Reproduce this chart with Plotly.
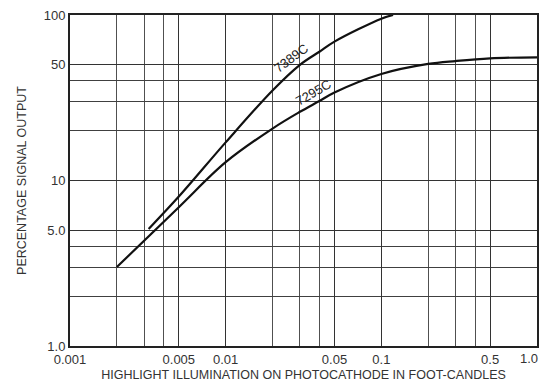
import plotly.graph_objects as go

# Data
x_7389c = [0.0032, 0.005, 0.01, 0.02, 0.03, 0.04, 0.05, 0.1, 0.119]
y_7389c = [5.1, 8.0, 17.0, 35.0, 50.0, 60.0, 69.0, 95.0, 100.0]

x_7295c = [0.002, 0.005, 0.01, 0.02, 0.03, 0.04, 0.05, 0.1, 0.2, 0.3, 0.5, 1.0]
y_7295c = [3.0, 6.9, 12.9, 20.6, 26.0, 30.2, 34.0, 44.0, 50.6, 52.7, 54.7, 55.5]

x_tickvals = [0.001, 0.005, 0.01, 0.05, 0.1, 0.5, 1.0]
x_ticktext = ["0.001", "0.005", "0.01", "0.05", "0.1", "0.5", "1.0"]
x_minor = [0.002, 0.003, 0.004, 0.02, 0.03, 0.04, 0.2, 0.3, 0.4]

y_tickvals = [1, 5, 10, 50, 100]
y_ticktext = ["1.0", "5.0", "10", "50", "100"]
y_minor = [2, 3, 4, 20, 30, 40]

font_family = "Liberation Sans, Arial, sans-serif"
grid_col = "#333333"
tick_font = dict(family=font_family, size=13, color="#333")

fig = go.Figure()
fig.add_trace(go.Scatter(x=x_7389c, y=y_7389c, mode="lines", name="7389C",
                         line=dict(color="#111", width=2.2, shape="spline", smoothing=1.0)))
fig.add_trace(go.Scatter(x=x_7295c, y=y_7295c, mode="lines", name="7295C",
                         line=dict(color="#111", width=2.2, shape="spline", smoothing=1.0)))

fig.add_annotation(x=-1.5825, y=1.738, xref="x", yref="y", text="7389C", showarrow=False,
                   textangle=-37, font=dict(family=font_family, size=13, color="#222"))
fig.add_annotation(x=-1.437, y=1.534, xref="x", yref="y", text="7295C", showarrow=False,
                   textangle=-30, font=dict(family=font_family, size=13, color="#222"))

# The last x tick label sits right-aligned at the plot's right edge (as in the reference)
tick_shown = [t if v < 1.0 else "" for v, t in zip(x_tickvals, x_ticktext)]
fig.add_annotation(x=0, y=0, xref="x", yref="paper", text=x_ticktext[-1], showarrow=False,
                   xanchor="right", yanchor="top", xshift=3, yshift=-3, font=tick_font)

fig.update_xaxes(type="log", range=[-3, 0], tickvals=x_tickvals, ticktext=tick_shown,
                 automargin=False,
                 showgrid=True, gridcolor=grid_col, gridwidth=1.3,
                 minor=dict(tickvals=x_minor, showgrid=True, gridcolor="#505050", gridwidth=1.2, ticks=""),
                 showline=True, linecolor="#222", linewidth=2, mirror=True, ticks="",
                 zeroline=False, tickfont=tick_font,
                 title=dict(text="HIGHLIGHT ILLUMINATION ON PHOTOCATHODE IN FOOT-CANDLES",
                            font=dict(family=font_family, size=12.5, color="#333"), standoff=5))
fig.update_yaxes(type="log", range=[0, 2], tickvals=y_tickvals, ticktext=y_ticktext,
                 automargin=False,
                 showgrid=True, gridcolor=grid_col, gridwidth=1.3,
                 minor=dict(tickvals=y_minor, showgrid=True, gridcolor="#404040", gridwidth=1.3, ticks=""),
                 showline=True, linecolor="#222", linewidth=2, mirror=True, ticks="",
                 zeroline=False, tickfont=tick_font,
                 title=dict(text="PERCENTAGE SIGNAL OUTPUT",
                            font=dict(family=font_family, size=12.5, color="#333"), standoff=14))

fig.update_layout(width=546, height=383, margin=dict(l=70, r=9, t=15, b=37),
                  plot_bgcolor="white", paper_bgcolor="white", showlegend=False)

fig.write_html("out.html", config={"displayModeBar": False},
               post_script="document.body.style.margin='0';document.body.style.overflow='hidden';")
